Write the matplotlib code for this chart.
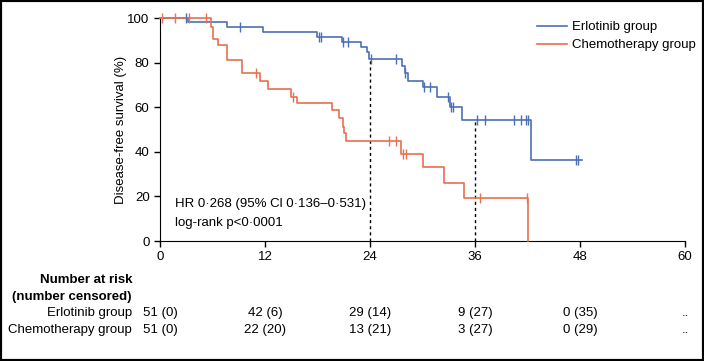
import matplotlib.pyplot as plt
from matplotlib.patches import Rectangle
from matplotlib.transforms import blended_transform_factory

plt.rcParams['font.family'] = ['Liberation Sans', 'DejaVu Sans']

# Kaplan-Meier steps (months, % disease-free)
erl_time = [0, 3.2, 7.7, 11.8, 17.9, 20.8, 23.0, 23.6, 23.9, 27.6, 28.0, 28.3,
            30.1, 31.6, 33.1, 34.5, 42.4, 48.2]
erl_surv = [100, 98.0, 95.9, 93.6, 91.4, 89.1, 87.0, 84.8, 81.4, 78.4, 75.4, 71.9,
            68.9, 64.6, 60.2, 54.3, 36.2, 36.2]
erl_cens = [3.0, 9.1, 18.2, 18.4, 20.9, 21.5, 24.1, 27.0, 28.0, 30.2, 30.9, 32.9,
            33.3, 33.5, 36.2, 37.1, 40.4, 41.2, 41.8, 42.0, 47.6, 47.8]

chemo_time = [0, 5.8, 6.0, 6.6, 7.7, 9.4, 11.4, 12.3, 15.0, 15.6, 19.6, 20.4, 20.9,
              21.0, 21.2, 27.5, 30.1, 32.5, 34.7, 42.1, 42.1]
chemo_surv = [100, 96.1, 90.8, 87.9, 81.0, 75.5, 71.7, 68.2, 64.7, 62.0, 58.7, 55.0,
              51.3, 48.3, 44.8, 39.0, 33.0, 26.1, 19.4, 0, 0]
chemo_cens = [0.2, 1.7, 3.3, 5.3, 11.0, 15.2, 26.2, 27.0, 27.8, 28.1, 36.6, 41.9]

risk_times = [0, 12, 24, 36, 48, 60]
erl_risk = ["51 (0)", "42 (6)", "29 (14)", "9 (27)", "0 (35)", ".."]
chemo_risk = ["51 (0)", "22 (20)", "13 (21)", "3 (27)", "0 (29)", ".."]

landmarks = [24, 36]

blue = '#4a70b8'
red = '#e8714f'


def surv_at(times, surv, t):
    val = surv[0]
    for ti, si in zip(times, surv):
        if ti <= t:
            val = si
    return val


fig = plt.figure(figsize=(7.04, 3.61), dpi=100)
ax = fig.add_axes([0.2273, 0.3324, 0.7457, 0.6177])

ax.step(erl_time, erl_surv, where='post', color=blue, lw=1.2,
        label='Erlotinib group', clip_on=False, zorder=3)
ax.step(chemo_time, chemo_surv, where='post', color=red, lw=1.2,
        label='Chemotherapy group', clip_on=False, zorder=3)
ax.plot(erl_cens, [surv_at(erl_time, erl_surv, t) for t in erl_cens], ls='none',
        marker='|', ms=7, mew=1.0, color=blue, clip_on=False, zorder=4)
ax.plot(chemo_cens, [surv_at(chemo_time, chemo_surv, t) for t in chemo_cens], ls='none',
        marker='|', ms=7, mew=1.0, color=red, clip_on=False, zorder=4)

for t in landmarks:
    ax.plot([t, t], [0, surv_at(erl_time, erl_surv, t)], color='black', lw=1.0,
            ls=(0, (2.2, 2.2)), zorder=2)

ax.set_xlim(0, 60)
ax.set_ylim(0, 100)
ax.set_xticks(risk_times)
ax.set_yticks([0, 20, 40, 60, 80, 100])
ax.spines['top'].set_visible(False)
ax.spines['right'].set_visible(False)
ax.tick_params(labelsize=9.5, length=4, width=1, direction='out')
ax.set_ylabel('Disease-free survival (%)', fontsize=9.5, labelpad=0)

ax.text(1.7, 16.5, 'HR 0·268 (95% Cl 0·136–0·531)', fontsize=9.5, va='center')
ax.text(1.7, 8, 'log-rank p<0·0001', fontsize=9.5, va='center')

ax.legend(loc='upper left', bbox_to_anchor=(0.695, 1.04), frameon=False, fontsize=9.5,
          handlelength=2.3, handletextpad=0.4, labelspacing=0.45)

# number at risk table
tr = blended_transform_factory(ax.transData, fig.transFigure)
fig.text(0.1875, 0.224, 'Number at risk', ha='right', va='center', fontsize=9.5,
         fontweight='bold')
fig.text(0.1875, 0.177, '(number censored)', ha='right', va='center', fontsize=9.5,
         fontweight='bold')
fig.text(0.1875, 0.133, 'Erlotinib group', ha='right', va='center', fontsize=9.5)
fig.text(0.1875, 0.086, 'Chemotherapy group', ha='right', va='center', fontsize=9.5)
for t, a, b in zip(risk_times, erl_risk, chemo_risk):
    ax.text(t, 0.133, a, transform=tr, ha='center', va='center', fontsize=9.5)
    ax.text(t, 0.086, b, transform=tr, ha='center', va='center', fontsize=9.5)

fig.patches.append(Rectangle((0, 0), 1, 1, transform=fig.transFigure, fill=False,
                             edgecolor='black', lw=3))

fig.savefig('out.png', dpi=100)
